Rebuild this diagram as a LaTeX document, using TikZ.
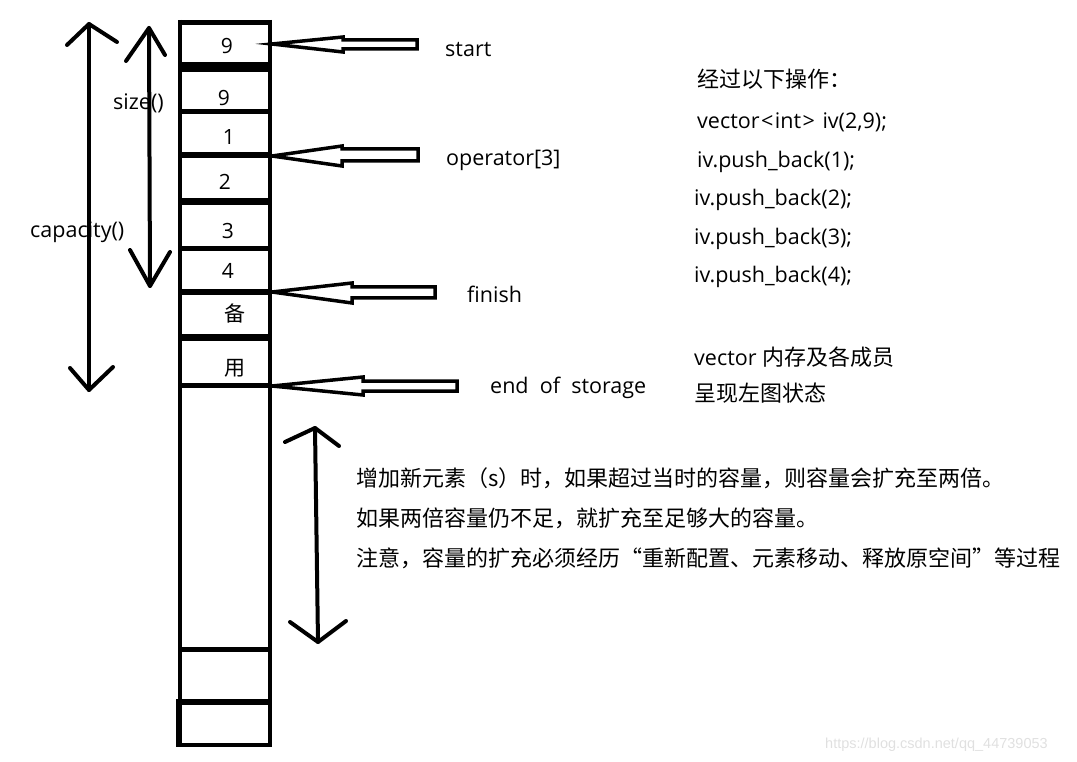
\documentclass[tikz,border=0pt]{standalone}
\usepackage{fontspec}
\setmainfont{Open Sans}
\newfontfamily\cjk{Noto Sans CJK SC}
\newfontfamily\wmfont{Liberation Sans}
\begin{document}
\begin{tikzpicture}[x=1pt,y=-1pt,
  lat/.style={anchor=base west, inner sep=0pt, font=\fontsize{21.5}{24}\selectfont},
  zh/.style={anchor=base west, inner sep=0pt, font=\cjk\fontsize{22}{24}\selectfont},
  cell/.style={anchor=base, inner sep=0pt, font=\fontsize{21}{24}\selectfont},
  zcell/.style={anchor=base, inner sep=0pt, font=\cjk\fontsize{21}{24}\selectfont},
  wall/.style={line width=4.5pt},
  band/.style={fill=black},
  blockarrow/.style={draw=black, line width=3.5pt, fill=white, line join=miter},
  dim/.style={line width=4pt, line cap=round, line join=round}]
\useasboundingbox (0,0) rectangle (1077,762);

% ---- column ----
\draw[wall] (180,20) -- (180,747);
\draw[wall] (270,20) -- (270,747);
\fill[band] (178,20) rectangle (272,25);
\fill[band] (178,62) rectangle (272,72);
\fill[band] (178,109) rectangle (272,114);
\fill[band] (178,152) rectangle (272,158);
\fill[band] (178,198) rectangle (272,205);
\fill[band] (178,246) rectangle (272,251);
\fill[band] (178,289) rectangle (272,295);
\fill[band] (178,334) rectangle (272,341);
\fill[band] (178,383) rectangle (272,388);
\fill[band] (178,647) rectangle (272,652);
\fill[band] (176,699) rectangle (272,705);
\fill[band] (176,743) rectangle (272,747);
\draw[line width=4.5pt] (178,702) -- (178,747);

% ---- cell contents ----
\node[cell] (c1) at (227,54) {9};
\node[cell] (c2) at (224,106) {9};
\node[cell] (c3) at (229,145) {1};
\node[cell] (c4) at (225,190) {2};
\node[cell] (c5) at (228,239) {3};
\node[cell] (c6) at (228,279) {4};
\node[zcell] (c7) at (235,322) {备};
\node[zcell] (c8) at (235,375) {用};

% ---- pointer labels ----
\node[lat] (lstart) at (445,57) {start};
\node[lat] (lop) at (446,166) {operator[3]};
\node[lat] (lfin) at (467,302) {finish};
\node[lat] (leos) at (490,393) {end\ \ of\ \ storage};

% ---- hollow block arrows ----
\coordinate (tStart) at (272,44);
\coordinate (tOp) at (272,156);
\coordinate (tFin) at (272,292);
\coordinate (tEos) at (272,386);
\draw[blockarrow] (tStart) -- (343,37) -- (343,40) -- (417,40) -- (417,49) -- (343,49) -- (343,52) -- cycle;
\draw[blockarrow] (tOp) -- (342,146) -- (342,149) -- (418,149) -- (418,161) -- (342,161) -- (342,166) -- cycle;
\draw[blockarrow] (tFin) -- (352,283) -- (352,287) -- (435,287) -- (435,298) -- (352,298) -- (352,303) -- cycle;
\draw[blockarrow] (tEos) -- (363,377) -- (363,381) -- (457,381) -- (457,391) -- (363,391) -- (363,395) -- cycle;

% ---- dimension arrows ----
\coordinate (capT) at (89,24);
\coordinate (capB) at (89,390);
\draw[dim] (capT) -- (capB);
\draw[dim] (67,45) -- (capT) -- (117,42);
\draw[dim] (70,368) -- (capB) -- (113,367);
\node[lat] (lcap) at (30,238) {capacity()};

\coordinate (szT) at (149,28);
\coordinate (szB) at (150,286);
\draw[dim] (szT) -- (szB);
\draw[dim] (126,61) -- (szT) -- (165,55);
\draw[dim] (130,250) -- (szB) -- (170,252);
\node[lat] (lsize) at (113,110) {size()};

\coordinate (grT) at (315,428);
\coordinate (grB) at (318,642);
\draw[dim] (grT) -- (grB);
\draw[dim] (285,442) -- (grT) -- (339,446);
\draw[dim] (290,622) -- (grB) -- (346,621);

% ---- right notes ----
\node[zh] (n0) at (697,88) {经过以下操作：};
\node[lat] (n1) at (697,129) {vector\hspace{1.5pt}<\hspace{1.5pt}int\hspace{1.5pt}>\hspace{2pt} iv(2,9);};
\node[lat] (n2) at (697,168) {iv.push\_back(1);};
\node[lat] (n3) at (694,206) {iv.push\_back(2);};
\node[lat] (n4) at (694,245) {iv.push\_back(3);};
\node[lat] (n5) at (694,283) {iv.push\_back(4);};
\node[lat] (n6) at (694,365) {vector {\cjk\fontsize{22}{24}\selectfont 内存及各成员}};
\node[zh] (n7) at (694,401) {呈现左图状态};

% ---- bottom notes ----
\node[zh] (b1) at (356,486) {增加新元素（s）时，如果超过当时的容量，则容量会扩充至两倍。};
\node[zh] (b2) at (356,526) {如果两倍容量仍不足，就扩充至足够大的容量。};
\node[zh] (b3) at (356,566) {注意，容量的扩充必须经历“重新配置、元素移动、释放原空间”等过程};

% ---- watermark ----
\node[anchor=base west, inner sep=0pt, text=black!12, font=\wmfont\fontsize{14.5}{16}\selectfont] (wm) at (825,748) {https://blog.csdn.net/qq\_44739053};
\end{tikzpicture}
\end{document}
